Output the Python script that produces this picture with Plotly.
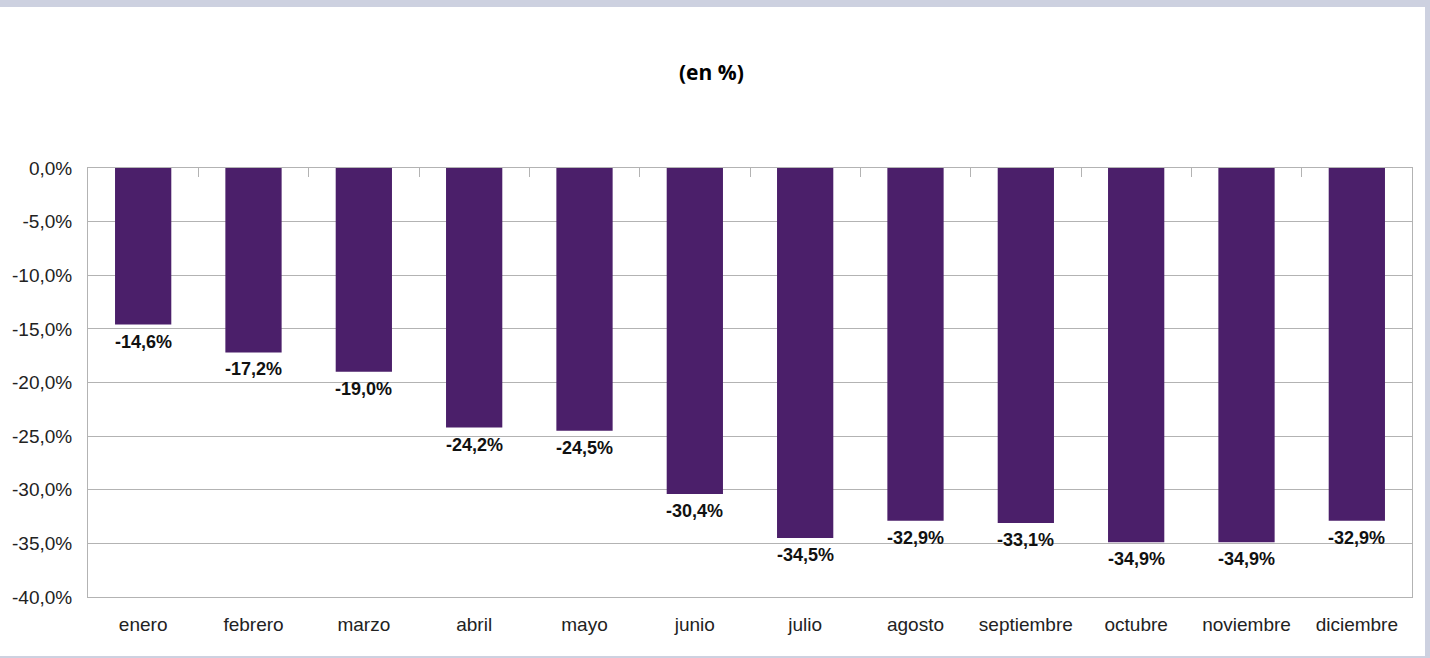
import plotly.graph_objects as go

months = ["enero", "febrero", "marzo", "abril", "mayo", "junio", "julio",
          "agosto", "septiembre", "octubre", "noviembre", "diciembre"]
values = [-14.6, -17.2, -19.0, -24.2, -24.5, -30.4, -34.5, -32.9, -33.1, -34.9, -34.9, -32.9]
ytick_vals = [0, -5, -10, -15, -20, -25, -30, -35, -40]
ytick_text = ["0,0%", "-5,0%", "-10,0%", "-15,0%", "-20,0%", "-25,0%", "-30,0%", "-35,0%", "-40,0%"]
title_text = "(en %)"

W, H = 1430, 658
L, R, T, B = 88, 18, 168, 61
pw, ph = W - L - R, H - T - B

def px_x(px):
    return (px - L) / pw

def px_y(py):
    return (H - B - py) / ph

bar_color = "#4B1F6A"
grid_color = "#B3B3B3"
frame_color = "#CDD1E0"

fig = go.Figure()
fig.add_trace(go.Bar(x=months, y=values, marker=dict(color=bar_color, line=dict(width=0)),
                     width=0.51, hoverinfo="skip"))
fig.add_trace(go.Scatter(x=months, y=[0] * len(months), xaxis="x2", mode="markers",
                         marker=dict(opacity=0), hoverinfo="skip", showlegend=False))

for m, v in zip(months, values):
    fig.add_annotation(x=m, y=v, text=("%.1f%%" % v).replace(".", ","), showarrow=False,
                       yanchor="top", yshift=-5,
                       font=dict(family="Liberation Sans, Arial", size=18, color="#111111",
                                 weight="bold"))

fig.add_annotation(xref="paper", yref="paper", x=px_x(711), y=px_y(72), text=title_text,
                   showarrow=False, xanchor="center", yanchor="middle",
                   font=dict(family="Open Sans", size=21, color="#000000", weight="bold"))

# frame bands
fig.add_shape(type="rect", xref="paper", yref="paper", x0=px_x(0), x1=px_x(W), y0=px_y(7), y1=px_y(0),
              fillcolor=frame_color, line=dict(width=0), layer="above")
fig.add_shape(type="rect", xref="paper", yref="paper", x0=px_x(1425), x1=px_x(W), y0=px_y(H), y1=px_y(0),
              fillcolor=frame_color, line=dict(width=0), layer="above")
fig.add_shape(type="rect", xref="paper", yref="paper", x0=px_x(0), x1=px_x(W), y0=px_y(H), y1=px_y(656),
              fillcolor=frame_color, line=dict(width=0), layer="above")

fig.update_layout(
    width=W, height=H,
    margin=dict(l=L, r=R, t=T, b=B, autoexpand=False),
    paper_bgcolor="white", plot_bgcolor="white",
    showlegend=False,
    bargap=0.49,
    font=dict(family="Liberation Sans, Arial", size=19, color="#222222"),
    xaxis=dict(type="category", categoryarray=months, range=[-0.5, 11.5],
               showgrid=False, showline=True, mirror=True, linecolor=grid_color, linewidth=1,
               ticks="", ticklabelstandoff=10,
               tickfont=dict(family="Liberation Sans, Arial", size=19, color="#222222")),
    xaxis2=dict(type="category", categoryarray=months, range=[-0.5, 11.5], overlaying="x",
                side="top", showgrid=False, showline=False, showticklabels=False,
                ticks="inside", tickson="boundaries", ticklen=9, tickcolor=grid_color, tickwidth=1),
    yaxis=dict(range=[-40, 0], tickvals=ytick_vals, ticktext=ytick_text,
               showgrid=True, gridcolor=grid_color, gridwidth=1, zeroline=False,
               showline=True, mirror=True, linecolor=grid_color, linewidth=1,
               ticks="", ticklabelstandoff=11,
               tickfont=dict(family="Liberation Sans, Arial", size=19, color="#222222")),
)

fig.write_html("out.html", config={"displayModeBar": False},
               post_script="document.body.style.margin='0';document.body.style.overflow='hidden';")
